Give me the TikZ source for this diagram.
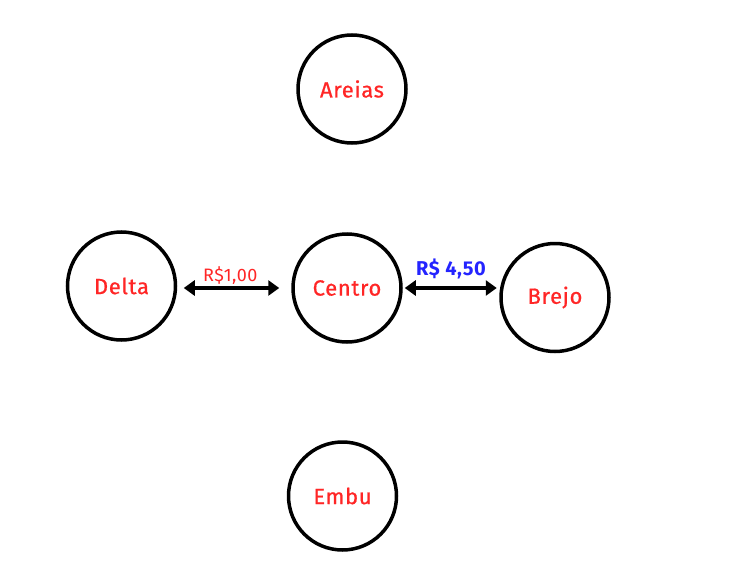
\documentclass[tikz,border=0pt]{standalone}
\usepackage{fontspec}
\setmainfont{Fira Sans}[LetterSpace=3]
\newfontfamily\townfont{Fira Sans}[LetterSpace=3, FakeBold=0.7]
\usetikzlibrary{arrows.meta}

\definecolor{townred}{RGB}{255,38,38}
\definecolor{priceblue}{RGB}{36,36,255}

\begin{document}
\begin{tikzpicture}
[x=1pt, y=-1pt,
every node/.style={inner sep=0pt},
town/.style={draw, circle, line width=3.5pt, minimum size=108pt, text=townred, font=\townfont\fontsize{22}{24}\selectfont},
link/.style={{Triangle[length=11pt, width=15pt]}-{Triangle[length=11pt, width=15pt]}, line width=3.5pt}
]

\useasboundingbox (0,0) rectangle (752,578);

% towns
\node[town] (areias) at (352,89) {Areias};
\node[town] (delta) at (121.5,286) {Delta};
\node[town] (centro) at (347,288) {Centro};
\node[town] (brejo) at (555,297.5) {Brejo};
\node[town] (embu) at (342.5,496) {Embu};

% fares
\draw[link, shorten <=6.5pt, shorten >=12pt] (delta.east |- centro) -- (centro.west)
node[midway, above=2pt, xshift=-4pt, text=townred, font=\fontsize{18}{20}\selectfont] (fare1) {R\$1,00};
\draw[link, shorten <=2pt, shorten >=2.5pt] (centro.east) -- (centro.east -| brejo.west)
node[midway, above=7pt, text=priceblue, font=\bfseries\fontsize{20}{22}\selectfont] (fare2) {R\$ 4,50};

\end{tikzpicture}
\end{document}
